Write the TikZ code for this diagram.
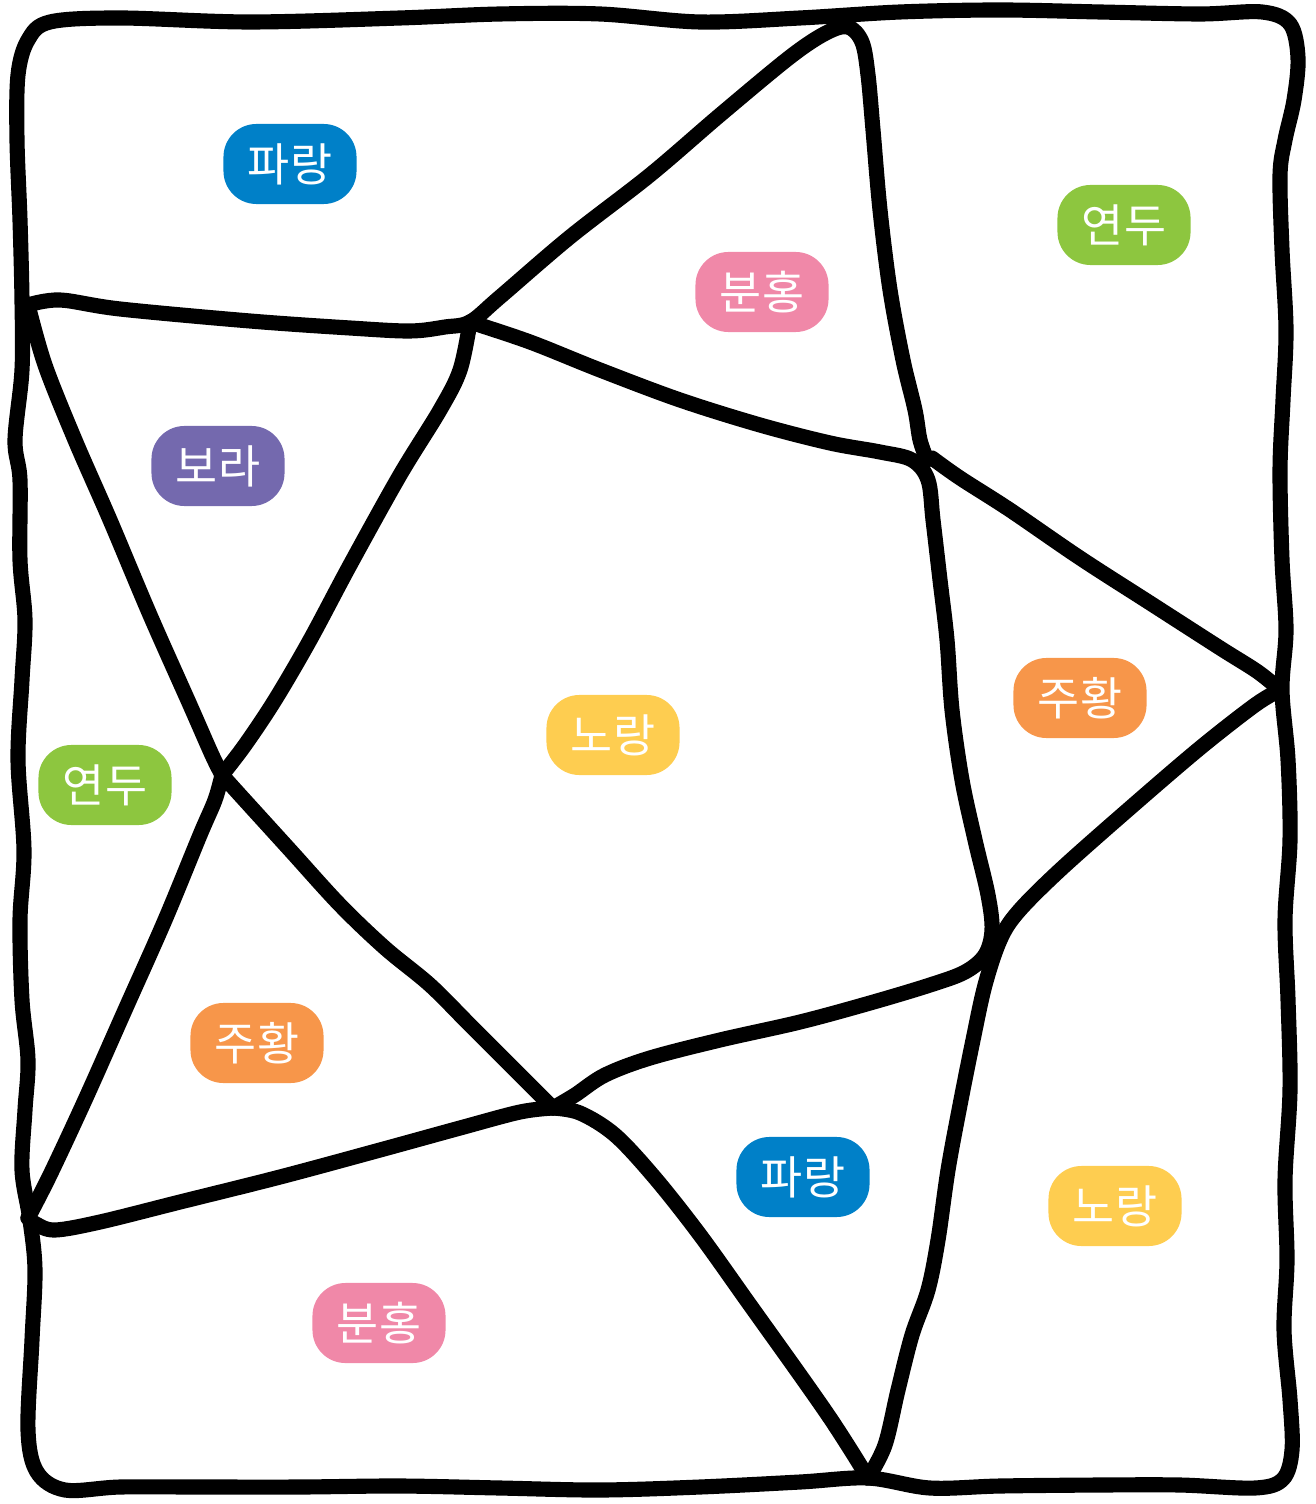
\documentclass[tikz,border=0pt]{standalone}
\usepackage{fontspec}
\usepackage{tikz}
\usetikzlibrary{positioning}
\newfontfamily\krfont{Noto Sans CJK KR}
\definecolor{tagblue}{RGB}{0, 128, 200}
\definecolor{tagpink}{RGB}{240, 136, 168}
\definecolor{taggreen}{RGB}{141, 198, 63}
\definecolor{tagpurple}{RGB}{116, 105, 174}
\definecolor{tagyellow}{RGB}{254, 205, 80}
\definecolor{tagorange}{RGB}{247, 150, 74}

\begin{document}
\begin{tikzpicture}[
  x=0.01cm, y=-0.01cm,
  tag/.style={
    rectangle, rounded corners=0.33cm,
    minimum width=1.33cm, minimum height=0.8cm,
    inner sep=0pt, text=white,
    font=\krfont\fontsize{13pt}{13pt}\selectfont
  },
  border/.style={line width=4.3pt, line cap=round, line join=round}
]
  \useasboundingbox (0,0) rectangle (1315,1504);

  % junctions
  \coordinate (jl) at (28,305);
  \coordinate (j1) at (470,322);
  \coordinate (j2) at (927,460);
  \coordinate (j3) at (222,775);
  \coordinate (j5) at (553,1108);
  \coordinate (j6) at (1280,690);
  \coordinate (j7) at (28,1218);
  \coordinate (j8) at (868,1478);

  % outer frame
  \draw[border] plot[smooth cycle, tension=0.55] coordinates {
    (50,22) (120,18) (250,22) (400,18) (500,14) (600,14) (700,22) (800,18)
    (900,12) (1000,10) (1100,12) (1200,14) (1262,12) (1290,24) (1298,58)
    (1294,100) (1285,140) (1280,175) (1282,250) (1286,330) (1283,400)
    (1280,470) (1282,560) (1286,630) (1282,690) (1288,760) (1290,840)
    (1285,920) (1288,1000) (1290,1090) (1285,1180) (1287,1260) (1284,1330)
    (1290,1400) (1292,1450) (1283,1479) (1255,1488) (1180,1485) (1100,1485)
    (1000,1486) (930,1488) (868,1478) (800,1482) (700,1487) (600,1490)
    (500,1488) (400,1486) (300,1487) (200,1487) (120,1487) (65,1490)
    (37,1472) (28,1430) (32,1340) (35,1270) (30,1220) (22,1170) (25,1110)
    (28,1060) (22,1000) (20,920) (24,850) (18,760) (22,680) (25,620)
    (20,560) (20,480) (15,440) (22,370) (22,300) (20,220) (17,140) (18,75)
    (28,40)};

  % inner borders
  \draw[border] plot[smooth, tension=0.55] coordinates {
    (jl) (60,300) (120,309) (250,321) (350,328) (410,331) (445,327)
    (j1) (500,297) (570,237) (650,175) (720,115) (790,57) (826,33)
    (848,27) (862,42) (868,75) (873,130) (880,210) (890,290) (903,360)
    (915,410) (920,440) (j2)};
  \draw[border] plot[smooth, tension=0.55] coordinates {
    (j1) (530,342) (600,370) (680,400) (760,425) (830,443) (880,452)
    (912,460) (928,480) (933,520) (940,580) (947,640) (952,710) (962,780)
    (975,840) (988,895) (992,930) (985,955) (965,972) (930,985) (870,1003)
    (800,1022) (720,1040) (650,1058) (605,1075) (575,1095) (j5)};
  \draw[border] plot[smooth, tension=0.55] coordinates {
    (j5) (520,1075) (470,1025) (430,985) (385,948) (340,905) (290,850)
    (240,795) (j3)};
  \draw[border] plot[smooth, tension=0.55] coordinates {
    (j3) (245,745) (275,700) (310,640) (350,565) (400,475) (440,410)
    (460,370) (j1)};
  \draw[border] plot[smooth, tension=0.55] coordinates {
    (932,458) (960,478) (1010,510) (1080,558) (1150,603) (1220,648)
    (1258,672) (j6)};
  \draw[border] plot[smooth, tension=0.55] coordinates {
    (j6) (1255,705) (1200,748) (1130,808) (1060,870) (1018,912) (1000,940)
    (985,985) (973,1040) (960,1105) (948,1170) (938,1240) (928,1290)
    (912,1335) (898,1390) (885,1445) (j8)};
  \draw[border] plot[smooth, tension=0.55] coordinates {
    (j5) (580,1113) (615,1135) (655,1178) (700,1235) (750,1305) (800,1375)
    (830,1418) (852,1452) (j8)};
  \draw[border] plot[smooth, tension=0.55] coordinates {
    (j5) (520,1112) (460,1128) (380,1150) (280,1177) (180,1202) (100,1222)
    (55,1230) (36,1224) (j7)};
  \draw[border] plot[smooth, tension=0.55] coordinates {
    (j7) (50,1175) (85,1100) (125,1010) (165,920) (200,835) (215,800) (j3)};
  \draw[border] plot[smooth, tension=0.55] coordinates {
    (jl) (45,365) (75,440) (110,520) (150,615) (190,705) (212,755) (j3)};

  % colour tags
  \node[tag, fill=tagblue] (blue1) at (290,164) {파랑};
  \node[tag, fill=tagpink] (pink1) at (762,292) {분홍};
  \node[tag, fill=taggreen] (green1) at (1124,225) {연두};
  \node[tag, fill=tagpurple] (purple1) at (218,466) {보라};
  \node[tag, fill=tagyellow] (yellow1) at (613,735) {노랑};
  \node[tag, fill=tagorange] (orange1) at (1080,698) {주황};
  \node[tag, fill=taggreen] (green2) at (105,785) {연두};
  \node[tag, fill=tagorange] (orange2) at (257,1043) {주황};
  \node[tag, fill=tagblue] (blue2) at (803,1177) {파랑};
  \node[tag, fill=tagyellow] (yellow2) at (1115,1206) {노랑};
  \node[tag, fill=tagpink] (pink2) at (379,1323) {분홍};
\end{tikzpicture}
\end{document}
